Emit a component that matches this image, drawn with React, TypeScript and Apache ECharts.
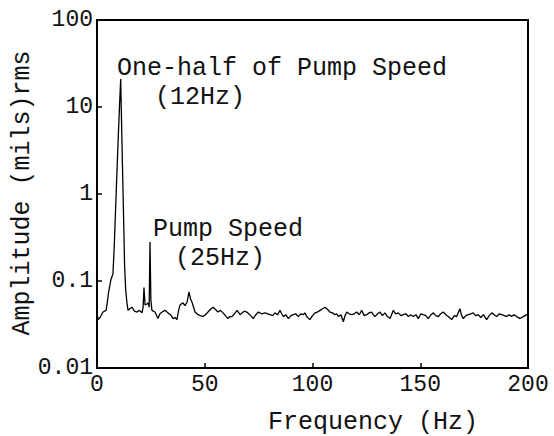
import React, { useEffect, useRef } from "react";
import * as echarts from "echarts";

// Spectrum: [frequency Hz, amplitude mils rms]
const lowBand: [number, number][] = [
  [0, 0.043], [0.5, 0.036], [1.4, 0.038], [2.8, 0.044], [4.2, 0.046], [4.7, 0.055],
  [5.3, 0.072], [6, 0.09], [6.5, 0.105], [7.4, 0.12], [8, 0.25], [8.5, 0.55], [9, 1.2],
  [9.5, 2.6], [10, 5.5], [10.5, 11], [11, 21], [11.5, 5], [12, 1.3], [12.5, 0.35],
  [12.8, 0.15], [13.3, 0.08], [13.9, 0.056], [14.4, 0.046], [15.2, 0.048], [16.2, 0.05],
  [17.4, 0.045], [18.6, 0.044], [19.8, 0.046], [20.9, 0.043], [21.4, 0.05], [21.8, 0.084],
  [22.3, 0.053], [23, 0.054], [23.7, 0.056], [24.2, 0.05], [24.6, 0.28], [25, 0.06],
  [25.5, 0.046], [26.9, 0.044], [28.3, 0.037], [29.2, 0.042], [30.2, 0.044], [31.6, 0.046],
  [32.9, 0.043], [34.1, 0.041], [35.3, 0.037], [36.2, 0.038], [37.1, 0.036], [37.8, 0.045],
  [38.5, 0.053], [39.9, 0.056], [40.8, 0.052], [41.8, 0.057], [42.7, 0.075], [43.4, 0.062],
  [44.1, 0.057], [45.5, 0.044], [46.9, 0.041], [48, 0.04], [49.2, 0.039], [50.3, 0.041],
  [51.5, 0.044], [52.6, 0.047], [53.8, 0.05], [55, 0.047], [56.1, 0.044], [57.3, 0.046],
  [58.5, 0.043], [59.6, 0.04], [60.8, 0.037], [61.7, 0.039], [62.6, 0.039], [63.8, 0.042],
  [65, 0.046], [66.4, 0.041],
];

const midBand: [number, number][] = [
  [67.3, 0.043], [68.4, 0.045], [69.5, 0.044], [70.9, 0.041], [72.5, 0.037], [73.7, 0.041],
  [74.9, 0.044], [76.4, 0.042], [78, 0.043], [79.2, 0.042], [80.3, 0.041], [81.5, 0.04],
  [82.6, 0.043], [83.8, 0.041], [84.9, 0.046], [85.7, 0.042], [86.5, 0.039], [87.6, 0.041],
  [88.8, 0.037], [90, 0.04], [91.1, 0.041], [92.2, 0.042], [93.4, 0.039], [94.6, 0.042],
  [95.7, 0.041], [96.5, 0.043], [97.3, 0.039], [98.8, 0.036], [100, 0.04], [101.2, 0.043],
  [102.3, 0.044], [103.5, 0.046], [104.7, 0.048], [105.8, 0.05], [107, 0.047], [108.1, 0.044],
  [109.3, 0.043], [110.4, 0.041], [111.2, 0.042], [112, 0.039], [113.2, 0.041], [114.3, 0.034],
  [115.1, 0.04], [115.9, 0.044], [117, 0.042], [118.2, 0.041], [119.4, 0.042], [120.5, 0.044],
  [121.7, 0.041], [122.8, 0.046], [124, 0.04], [125.1, 0.041], [126.3, 0.043], [127.4, 0.044],
  [128.2, 0.041], [129, 0.039], [130.2, 0.042], [131.3, 0.044], [132.4, 0.04], [133.6, 0.043],
];

const highBand: [number, number][] = [
  [134.8, 0.039], [136, 0.037], [137.5, 0.046], [138.6, 0.042], [139.8, 0.043], [141, 0.04],
  [142.1, 0.041], [143.3, 0.042], [144.5, 0.039], [145.6, 0.041], [146.8, 0.039], [148, 0.041],
  [149.1, 0.037], [150.3, 0.042], [151.4, 0.041], [152.6, 0.04], [153.7, 0.037], [155, 0.041],
  [156.1, 0.043], [157.2, 0.04], [158.4, 0.039], [159.5, 0.042], [160.7, 0.044], [161.9, 0.041],
  [163, 0.039], [164.6, 0.036], [165.8, 0.04], [166.9, 0.039], [168.4, 0.048], [169.2, 0.04],
  [170, 0.037], [171.1, 0.04], [172.3, 0.041], [173.5, 0.042], [174.6, 0.043], [175.7, 0.04],
  [176.9, 0.041], [178.1, 0.038], [179.3, 0.041], [180.8, 0.036], [182, 0.04], [183.2, 0.043],
  [184.3, 0.041], [185.5, 0.039], [186.7, 0.042], [187.8, 0.041], [189, 0.04], [190.1, 0.039],
  [191.2, 0.041], [192.4, 0.039], [193.5, 0.041], [194.7, 0.039], [196.3, 0.037], [197.8, 0.039],
  [199.4, 0.041], [200, 0.04],
];

const yTickLabels = ["0.01", "0.1", "1", "10", "100"];
const xAxisTitle = "Frequency (Hz)";
const yAxisTitle = "Amplitude (mils)rms";
const peakNotes = ["One-half of Pump Speed", "(12Hz)", "Pump Speed", "(25Hz)"];

const FONT = "'Liberation Mono', 'Courier New', monospace";

export default function App() {
  const ref = useRef<HTMLDivElement>(null);
  useEffect(() => {
    if (!ref.current) return;
    const chart = echarts.init(ref.current, null, { renderer: "svg" });
    const axisLine = { show: true, lineStyle: { color: "#000", width: 2 } };
    const axisTick = { show: true, inside: true, length: 5, lineStyle: { color: "#000", width: 1.5 } };
    const txt = (text: string, x: number, y: number, size: number, align = "left", rotation = 0) => ({
      type: "text",
      x,
      y,
      rotation,
      style: {
        text,
        fill: "#111",
        font: `${size}px ${FONT}`,
        textAlign: align,
        textVerticalAlign: "middle",
      },
    });
    chart.setOption({
      animation: false,
      backgroundColor: "#fff",
      grid: {
        left: 97,
        right: 26,
        top: 20,
        bottom: 68,
        show: true,
        borderColor: "#000",
        borderWidth: 2,
        backgroundColor: "transparent",
      },
      xAxis: {
        type: "value",
        min: 0,
        max: 200,
        interval: 50,
        axisLine,
        axisTick,
        splitLine: { show: false },
        axisLabel: { color: "#111", fontFamily: FONT, fontSize: 23, margin: 5 },
      },
      yAxis: {
        type: "log",
        logBase: 10,
        min: 0.01,
        max: 100,
        axisLine,
        axisTick,
        minorTick: { show: false },
        splitLine: { show: false },
        axisLabel: {
          color: "#111",
          fontFamily: FONT,
          fontSize: 23,
          margin: 4,
          formatter: (v: number) => yTickLabels[Math.round(Math.log10(v)) + 2],
        },
      },
      series: [
        {
          type: "line",
          data: [...lowBand, ...midBand, ...highBand],
          showSymbol: false,
          symbol: "none",
          lineStyle: { color: "#000", width: 1.3 },
        },
      ],
      graphic: [
        txt(peakNotes[0], 117, 68, 25),
        txt(peakNotes[1], 155, 97, 25),
        txt(peakNotes[2], 153, 229, 25),
        txt(peakNotes[3], 175, 258, 25),
        txt(xAxisTitle, 373, 422, 25, "center"),
        txt(yAxisTitle, 22, 193, 25, "center", Math.PI / 2),
      ],
    });
    return () => chart.dispose();
  }, []);
  return (
    <div
      ref={ref}
      style={{ position: "fixed", left: 0, top: 0, width: 554, height: 436, background: "#fff" }}
    />
  );
}
